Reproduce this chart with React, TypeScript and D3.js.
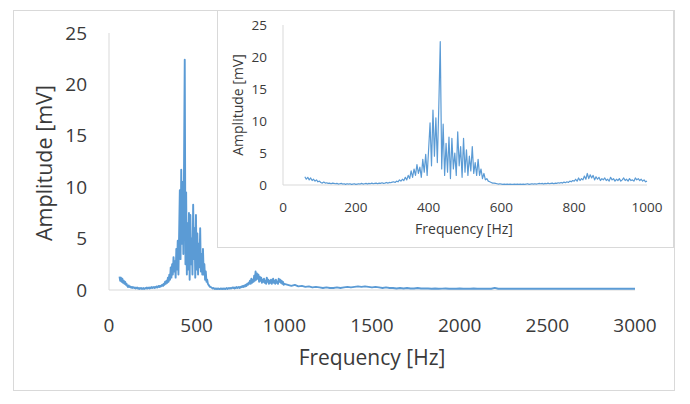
import React from "react";
import * as d3 from "d3";

// Spectrum 60..1000 Hz, 4 Hz bins
const lowStartHz = 60;
const lowStepHz = 4;
const lowAmplitude = [
  1.3, 0.9, 1.2, 0.8, 1.1, 0.7, 0.9, 0.6, 0.8, 0.5, 0.6,
  0.4, 0.3, 0.45, 0.3, 0.35, 0.25, 0.3, 0.2, 0.3, 0.25,
  0.2, 0.25, 0.15, 0.2, 0.25, 0.15, 0.2, 0.1, 0.2, 0.15,
  0.2, 0.1, 0.15, 0.2, 0.1, 0.15, 0.2, 0.15, 0.25, 0.15,
  0.2, 0.25, 0.15, 0.25, 0.2, 0.3, 0.2, 0.25, 0.3, 0.2,
  0.3, 0.25, 0.35, 0.25, 0.3, 0.4, 0.3, 0.4, 0.35, 0.45,
  0.5, 0.4, 0.6, 0.5, 0.8, 0.6, 0.9, 0.7, 1.2, 0.8, 1.5, 1.0, 2.2, 1.2, 2.5,
  1.5, 3.2, 1.8, 2.8, 1.2, 4.0, 2.0, 4.8, 1.5, 5.5,
  9.7, 3.0, 11.7, 4.5, 10.5, 3.5, 12.2, 22.4, 2.5, 9.5,
  1.5, 6.5, 2.0, 7.5, 1.0, 7.3, 2.5, 5.0, 1.5, 8.3,
  3.0, 6.0, 1.2, 7.3, 2.0, 5.5, 1.5, 4.5, 2.2, 6.0,
  1.8, 3.5, 1.5, 4.0, 1.5,
  2.5, 1.0, 1.8, 0.8, 1.0, 0.6, 0.5, 0.4, 0.3, 0.3,
  0.25, 0.2, 0.15, 0.2, 0.15, 0.1, 0.15, 0.1, 0.15, 0.1,
  0.15, 0.1, 0.1, 0.15, 0.1, 0.15, 0.1, 0.15, 0.1, 0.15,
  0.1, 0.15, 0.2, 0.1, 0.15, 0.2, 0.15, 0.2, 0.15, 0.2,
  0.25, 0.2, 0.25, 0.15, 0.25, 0.2, 0.3, 0.2, 0.25, 0.3,
  0.2, 0.3, 0.25, 0.35, 0.3, 0.4, 0.3, 0.45, 0.35, 0.5,
  0.4, 0.6, 0.5, 0.7, 0.6,
  0.9, 0.6, 1.1, 0.7, 1.0, 0.8, 1.4, 0.9, 1.8, 1.0,
  1.6, 1.1, 1.5, 0.8, 1.3, 0.9, 1.2, 0.7, 1.0, 0.8,
  1.1, 0.7, 0.9, 0.6, 1.2, 0.8, 1.0, 0.6, 0.9, 0.7,
  1.0, 0.6, 0.8, 1.1, 0.7, 0.9, 0.6, 1.0, 0.7, 0.8,
  0.6, 1.1, 0.8, 1.0, 0.7, 0.9, 0.6, 0.8, 0.5, 0.6,
];

// Spectrum 1020..3000 Hz, 20 Hz bins
const highStartHz = 1020;
const highStepHz = 20;
const highAmplitude = [
  0.5, 0.4, 0.5, 0.35, 0.4, 0.3, 0.35, 0.25, 0.3, 0.25,
  0.2, 0.25, 0.2, 0.2, 0.25, 0.2, 0.25, 0.3, 0.25, 0.3,
  0.35, 0.3, 0.35, 0.3, 0.25, 0.3, 0.25, 0.2, 0.25, 0.2,
  0.2, 0.15, 0.2, 0.15, 0.2, 0.15, 0.15, 0.2, 0.15, 0.15,
  0.15, 0.12, 0.15, 0.12, 0.13, 0.15, 0.12, 0.13, 0.12, 0.14,
  0.12, 0.13, 0.12, 0.14, 0.12, 0.13, 0.12, 0.13, 0.12, 0.2,
  0.12, 0.13, 0.12, 0.12, 0.13, 0.12, 0.12, 0.13, 0.12, 0.12,
  0.12, 0.12, 0.13, 0.12, 0.12, 0.12, 0.13, 0.12, 0.12, 0.12,
  0.12, 0.12, 0.12, 0.13, 0.12, 0.12, 0.12, 0.12, 0.12, 0.12,
  0.12, 0.12, 0.12, 0.12, 0.12, 0.12, 0.12, 0.12, 0.12, 0.12,
];

const mainXTicks = [0, 500, 1000, 1500, 2000, 2500, 3000];
const mainYTicks = [0, 5, 10, 15, 20, 25];
const insetXTicks = [0, 200, 400, 600, 800, 1000];
const insetYTicks = [0, 5, 10, 15, 20, 25];
const xTitle = "Frequency [Hz]";
const yTitle = "Amplitude [mV]";

type Pt = { f: number; a: number };
const lowData: Pt[] = lowAmplitude.map((a, i) => ({ f: lowStartHz + i * lowStepHz, a }));
const highData: Pt[] = highAmplitude.map((a, i) => ({ f: highStartHz + i * highStepHz, a }));
const allData = lowData.concat(highData);

const LINE = "#5b9bd5";
const AXIS = "#d9d9d9";
const TEXT = "#3a3a3a";
const FONT = "'Open Sans', 'Liberation Sans', sans-serif";

export default function App() {
  // main plot
  const mx = d3.scaleLinear().domain([0, 3000]).range([109, 635]);
  const my = d3.scaleLinear().domain([0, 25]).range([290, 33]);
  const mLine = d3.line<Pt>().x((d) => mx(d.f)).y((d) => my(d.a));

  // inset plot
  const ix = d3.scaleLinear().domain([0, 1000]).range([283, 647]);
  const iy = d3.scaleLinear().domain([0, 25]).range([185, 25]);
  const iLine = d3.line<Pt>().x((d) => ix(d.f)).y((d) => iy(d.a));

  return (
    <svg
      width={690}
      height={404}
      style={{ position: "absolute", left: 0, top: 0, background: "#fff" }}
      fontFamily={FONT}
    >
      <rect x={0} y={0} width={690} height={404} fill="#fff" />
      <rect x={13.5} y={10.5} width={661} height={380} fill="#fff" stroke={AXIS} strokeWidth={1} />

      {/* main axes */}
      <line x1={mx(0)} x2={mx(0)} y1={my(25)} y2={my(0)} stroke={AXIS} strokeWidth={1} />
      <line x1={mx(0)} x2={mx(3000)} y1={my(0)} y2={my(0)} stroke={AXIS} strokeWidth={1} />
      {mainYTicks.map((t) => (
        <text key={"my" + t} x={87} y={my(t)} dy="0.35em" textAnchor="end" fontSize={19} fill={TEXT}>
          {t}
        </text>
      ))}
      {mainXTicks.map((t) => (
        <text key={"mx" + t} x={mx(t)} y={325} dy="0.35em" textAnchor="middle" fontSize={19} fill={TEXT}>
          {t}
        </text>
      ))}
      <text x={372} y={358} dy="0.35em" textAnchor="middle" fontSize={21} fill={TEXT}>
        {xTitle}
      </text>
      <text
        transform={`translate(44,163) rotate(-90)`}
        dy="0.35em"
        textAnchor="middle"
        fontSize={21.5}
        fill={TEXT}
      >
        {yTitle}
      </text>
      <path d={mLine(allData) || ""} fill="none" stroke={LINE} strokeWidth={1.9} strokeLinejoin="round" />

      {/* inset */}
      <rect x={217.5} y={10.5} width={456} height={237} fill="#fff" stroke={AXIS} strokeWidth={1} />
      <line x1={ix(0)} x2={ix(0)} y1={iy(25)} y2={iy(0)} stroke={AXIS} strokeWidth={1} />
      <line x1={ix(0)} x2={ix(1000)} y1={iy(0)} y2={iy(0)} stroke={AXIS} strokeWidth={1} />
      {insetYTicks.map((t) => (
        <text key={"iy" + t} x={267} y={iy(t)} dy="0.35em" textAnchor="end" fontSize={13.5} fill={TEXT}>
          {t}
        </text>
      ))}
      {insetXTicks.map((t) => (
        <text key={"ix" + t} x={ix(t)} y={207} dy="0.35em" textAnchor="middle" fontSize={13.5} fill={TEXT}>
          {t}
        </text>
      ))}
      <text x={464} y={229} dy="0.35em" textAnchor="middle" fontSize={14} fill={TEXT}>
        {xTitle}
      </text>
      <text
        transform={`translate(238,105) rotate(-90)`}
        dy="0.35em"
        textAnchor="middle"
        fontSize={14}
        fill={TEXT}
      >
        {yTitle}
      </text>
      <path d={iLine(lowData) || ""} fill="none" stroke={LINE} strokeWidth={1.2} strokeLinejoin="round" />
    </svg>
  );
}
